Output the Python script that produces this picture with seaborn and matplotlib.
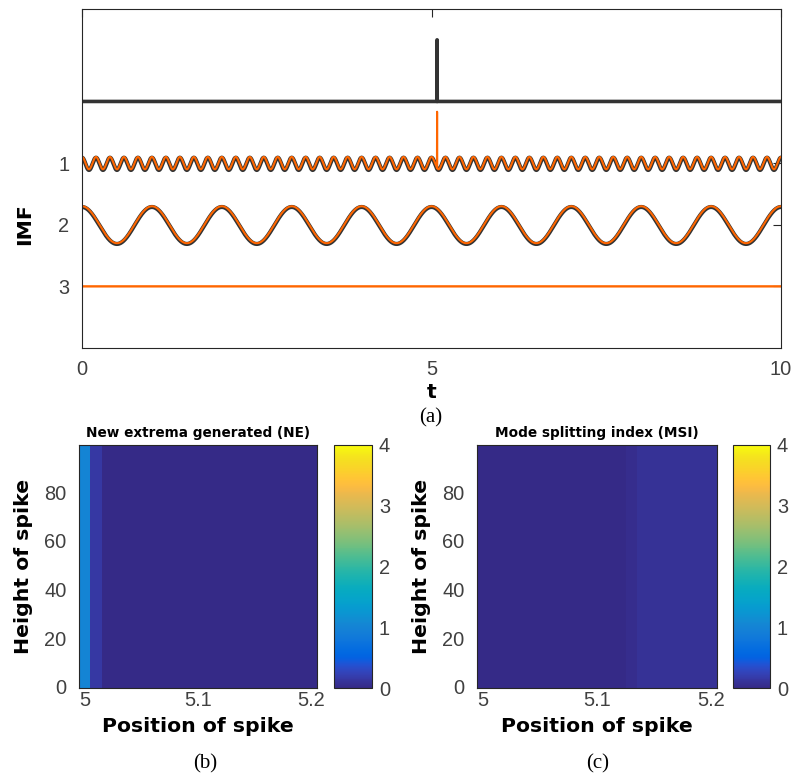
import numpy as np
import pandas as pd
import matplotlib
matplotlib.use("Agg")
import matplotlib.pyplot as plt
import seaborn as sns
from matplotlib.colors import LinearSegmentedColormap

# ---------------- data ----------------
t_limits = [0.0, 10.0]
n_samples = 5001
spike_time = 5.08
signal_spike_height = 1.0          # spike in the signal (drawn above IMF row 0)
imf1_amplitude = 0.10
imf1_frequency = 5.0               # cycles per unit t
imf1_spike_leak = 0.914            # spike that leaks into the estimated IMF1
imf2_amplitude = 0.30
imf2_frequency = 1.0
imf_rows = [1, 2, 3]
top_xticks = [0, 5, 10]

spike_positions = [5.00, 5.01, 5.02, 5.03, 5.04, 5.05, 5.06, 5.07, 5.08, 5.09, 5.10,
                   5.11, 5.12, 5.13, 5.14, 5.15, 5.16, 5.17, 5.18, 5.19, 5.20]
spike_heights = list(range(0, 100))
ne_values = [1.00, 0.15, 0.00, 0.00, 0.00, 0.00, 0.00, 0.00, 0.00, 0.00, 0.00,
             0.00, 0.00, 0.00, 0.00, 0.00, 0.00, 0.00, 0.00, 0.00, 0.00]
msi_values = [0.00, 0.00, 0.00, 0.00, 0.00, 0.00, 0.00, 0.00, 0.00, 0.00, 0.00,
              0.00, 0.00, 0.04, 0.08, 0.08, 0.08, 0.08, 0.08, 0.08, 0.08]
pos_tick_labels = ["5", "5.1", "5.2"]
height_tick_labels = ["0", "20", "40", "60", "80"]
cbar_ticks = [0, 1, 2, 3, 4]

# ---------------- parula colormap ----------------
parula_rgb = [
    [0.2081, 0.1663, 0.5292], [0.2116, 0.1898, 0.5777], [0.2123, 0.2138, 0.6270],
    [0.2081, 0.2386, 0.6771], [0.1959, 0.2645, 0.7279], [0.1707, 0.2919, 0.7792],
    [0.1253, 0.3242, 0.8303], [0.0591, 0.3598, 0.8683], [0.0117, 0.3875, 0.8820],
    [0.0060, 0.4086, 0.8828], [0.0165, 0.4266, 0.8786], [0.0329, 0.4430, 0.8720],
    [0.0498, 0.4586, 0.8641], [0.0629, 0.4737, 0.8554], [0.0723, 0.4887, 0.8467],
    [0.0779, 0.5040, 0.8384], [0.0793, 0.5200, 0.8312], [0.0749, 0.5375, 0.8263],
    [0.0641, 0.5570, 0.8240], [0.0488, 0.5772, 0.8228], [0.0343, 0.5966, 0.8199],
    [0.0265, 0.6137, 0.8135], [0.0239, 0.6287, 0.8038], [0.0231, 0.6418, 0.7913],
    [0.0228, 0.6535, 0.7768], [0.0267, 0.6642, 0.7607], [0.0384, 0.6743, 0.7436],
    [0.0590, 0.6838, 0.7254], [0.0843, 0.6928, 0.7062], [0.1133, 0.7015, 0.6859],
    [0.1453, 0.7098, 0.6646], [0.1801, 0.7177, 0.6424], [0.2178, 0.7250, 0.6193],
    [0.2586, 0.7317, 0.5954], [0.3022, 0.7376, 0.5712], [0.3482, 0.7424, 0.5473],
    [0.3953, 0.7459, 0.5244], [0.4420, 0.7481, 0.5033], [0.4871, 0.7491, 0.4840],
    [0.5300, 0.7491, 0.4661], [0.5709, 0.7485, 0.4494], [0.6099, 0.7473, 0.4337],
    [0.6473, 0.7456, 0.4188], [0.6834, 0.7435, 0.4044], [0.7184, 0.7411, 0.3905],
    [0.7525, 0.7384, 0.3768], [0.7858, 0.7356, 0.3633], [0.8185, 0.7327, 0.3498],
    [0.8507, 0.7299, 0.3360], [0.8824, 0.7274, 0.3217], [0.9139, 0.7258, 0.3063],
    [0.9450, 0.7261, 0.2886], [0.9739, 0.7314, 0.2666], [0.9938, 0.7455, 0.2403],
    [0.9990, 0.7653, 0.2164], [0.9955, 0.7861, 0.1967], [0.9880, 0.8066, 0.1794],
    [0.9789, 0.8271, 0.1633], [0.9697, 0.8481, 0.1475], [0.9626, 0.8705, 0.1309],
    [0.9589, 0.8949, 0.1132], [0.9598, 0.9218, 0.0948], [0.9661, 0.9514, 0.0755],
    [0.9763, 0.9831, 0.0538]]
parula = LinearSegmentedColormap.from_list("parula", parula_rgb, N=256)

# ---------------- style ----------------
sns.set_style("white")
AX_COL = "#262626"
LAB_COL = "#404040"
plt.rcParams["font.family"] = ["Liberation Sans", "DejaVu Sans"]
plt.rcParams["axes.edgecolor"] = AX_COL
plt.rcParams["axes.linewidth"] = 0.8
label_font = dict(family="DejaVu Sans", fontweight="bold", fontsize=14.7, color="black")
tick_size = 14.4
BLACK = "#333333"
ORANGE = "#FF6600"

W, H = 795, 776
fig = plt.figure(figsize=(W / 100, H / 100), dpi=100)


def box(l, t, r, b):
    return [l / W, 1 - b / H, (r - l) / W, (b - t) / H]


ax_top = fig.add_axes(box(82, 9, 781, 348))
ax_b = fig.add_axes(box(79, 445, 317, 688))
cax_b = fig.add_axes(box(334, 445, 372, 688))
ax_c = fig.add_axes(box(477, 445, 717, 688))
cax_c = fig.add_axes(box(733, 445, 770, 688))

# ---------------- top panel ----------------
t = np.linspace(t_limits[0], t_limits[1], n_samples)
k = int(np.argmin(np.abs(t - spike_time)))
spike = np.zeros_like(t)
spike[k] = 1.0

signal_plot = 0 - signal_spike_height * spike
imf1_true = imf1_amplitude * np.cos(2 * np.pi * imf1_frequency * t)
imf1_est = imf1_true + imf1_spike_leak * spike
imf2_true = imf2_amplitude * np.cos(2 * np.pi * imf2_frequency * t)

lines = [
    (signal_plot, BLACK, 2.6),
    (imf_rows[0] - imf1_true + 0.012, BLACK, 3.0),
    (imf_rows[1] - imf2_true + 0.012, BLACK, 3.0),
    (imf_rows[0] - imf1_est, ORANGE, 1.5),
    (imf_rows[1] - imf2_true, ORANGE, 1.5),
    (imf_rows[2] - 0 * t, ORANGE, 1.7),
]
for yv, col, lw in lines:
    sns.lineplot(x=t, y=yv, ax=ax_top, color=col, linewidth=lw,
                 estimator=None, errorbar=None, sort=False)

ax_top.set_xlim(*t_limits)
ax_top.set_ylim(4.0, -1.5)
ax_top.set_xticks(top_xticks)
ax_top.set_xticklabels([str(v) for v in top_xticks])
ax_top.set_yticks(imf_rows)
ax_top.set_yticklabels([str(v) for v in imf_rows])
ax_top.tick_params(direction="in", length=6, width=0.8, color=AX_COL,
                   top=True, right=True, labelsize=tick_size, labelcolor=LAB_COL)
ax_top.tick_params(axis="x", pad=9)
ax_top.tick_params(axis="y", pad=9)
ax_top.set_xlabel("t", **label_font)
ax_top.xaxis.set_label_coords(0.5, -0.13)
ax_top.xaxis.label.set_va("center")
ax_top.set_ylabel("IMF", **label_font)
ax_top.yaxis.set_label_coords(-0.0815, 0.366)
ax_top.yaxis.label.set_va("center")
for s in ax_top.spines.values():
    s.set_visible(True)
    s.set_color(AX_COL)
fig.text(431 / W, 1 - 418 / H, "(a)", ha="center", va="center",
         family="Liberation Serif", fontsize=15, color="black")

# ---------------- heatmaps ----------------
def draw_map(ax, cax, values, title, label_x, tag):
    df = pd.DataFrame(np.tile(values, (len(spike_heights), 1)),
                      index=spike_heights, columns=spike_positions)
    sns.heatmap(df, ax=ax, cmap=parula, vmin=0, vmax=4, cbar_ax=cax,
                cbar_kws={"ticks": cbar_ticks}, xticklabels=False, yticklabels=False)
    ax.invert_yaxis()
    xt = [spike_positions.index(p) + 0.5 for p in (5.00, 5.10, 5.20)]
    ax.set_xticks(xt)
    ax.set_xticklabels(pos_tick_labels, rotation=0)
    yt = [spike_heights.index(int(h)) + 0.5 for h in height_tick_labels]
    ax.set_yticks(yt)
    ax.set_yticklabels(height_tick_labels, rotation=0)
    for s in ax.spines.values():
        s.set_visible(True)
        s.set_color(AX_COL)
        s.set_linewidth(0.8)
    ax.tick_params(direction="in", length=3.5, width=0.7, color=AX_COL,
                   top=True, right=True, bottom=True, left=True,
                   labelsize=tick_size, labelcolor=LAB_COL)
    ax.tick_params(axis="x", pad=2)
    ax.tick_params(axis="y", pad=9)
    ax.set_xlabel("Position of spike", **label_font)
    ax.xaxis.set_label_coords(0.5, -0.16)
    ax.xaxis.label.set_va("center")
    ax.set_ylabel("Height of spike", **label_font)
    ax.yaxis.set_label_coords(label_x, 0.5)
    ax.yaxis.label.set_va("center")
    ax.set_title(title, family="DejaVu Sans", fontweight="bold", fontsize=9.8,
                 color="black", pad=6)
    cb = ax.collections[0].colorbar
    cb.outline.set_linewidth(0.8)
    cb.outline.set_edgecolor(AX_COL)
    cax.tick_params(direction="in", length=3.5, width=0.7, color=AX_COL,
                    labelsize=tick_size, labelcolor=LAB_COL, pad=5)


draw_map(ax_b, cax_b, ne_values, "New extrema generated (NE)", -0.235, "(b)")
draw_map(ax_c, cax_c, msi_values, "Mode splitting index (MSI)", -0.233, "(c)")
fig.text(205 / W, 1 - 764 / H, "(b)", ha="center", va="center",
         family="Liberation Serif", fontsize=15, color="black")
fig.text(598 / W, 1 - 764 / H, "(c)", ha="center", va="center",
         family="Liberation Serif", fontsize=15, color="black")

fig.savefig("out.png", dpi=100, facecolor="white")
